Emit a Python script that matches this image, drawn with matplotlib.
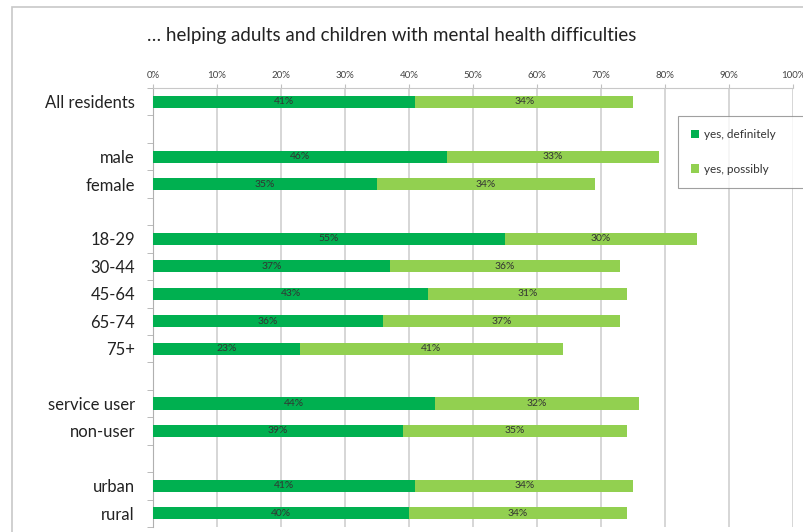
import numpy as np
import matplotlib.pyplot as plt
from matplotlib.patches import Rectangle

# data (None = spacer row)
categories = ['All residents', '', 'male', 'female', '', '18-29', '30-44', '45-64',
              '65-74', '75+', '', 'service user', 'non-user', '', 'urban', 'rural']
definitely = [41, None, 46, 35, None, 55, 37, 43, 36, 23, None, 44, 39, None, 41, 40]
possibly = [34, None, 33, 34, None, 30, 36, 31, 37, 41, None, 32, 35, None, 34, 34]
xticks = list(range(0, 101, 10))

plt.rcParams['font.family'] = ['Lato', 'DejaVu Sans']

fig = plt.figure(figsize=(8.04, 5.32), dpi=100)
ax = fig.add_axes([153/804, 1 - 527/532, 640/804, 439/532])

# outer chart frame (only left/top edges visible in the crop)
fig.patches.append(Rectangle((12/804, -0.1), 1.0, 1 - 7/532 + 0.1, transform=fig.transFigure,
                             fill=False, edgecolor='#c8c8c8', linewidth=1.2))

dark = '#00b050'
light = '#92d050'
y = np.arange(len(categories))
rows = [i for i, d in enumerate(definitely) if d is not None]
d_vals = np.array([definitely[i] for i in rows])
p_vals = np.array([possibly[i] for i in rows])

ax.barh(rows, d_vals, height=0.44, color=dark, label='yes, definitely', zorder=3)
ax.barh(rows, p_vals, left=d_vals, height=0.44, color=light, label='yes, possibly', zorder=3)

for r, d, p in zip(rows, d_vals, p_vals):
    ax.text(d / 2, r, f'{d}%', ha='center', va='center', fontsize=7.5, color='#333333', zorder=4)
    ax.text(d + p / 2, r, f'{p}%', ha='center', va='center', fontsize=7.5, color='#333333', zorder=4)

ax.set_xlim(0, 100)
ax.set_ylim(len(categories) - 0.5, -0.5)
ax.xaxis.tick_top()
ax.set_xticks(xticks)
ax.set_xticklabels([f'{t}%' for t in xticks], fontsize=7, color='#444444')
ax.tick_params(axis='x', length=3, color='#c0c0c0', pad=3)
ax.grid(axis='x', color='#d0d0d0', linewidth=1.2, zorder=0)

ax.set_yticks(y)
ax.set_yticklabels(categories, fontsize=12, color='#222222')
ax.set_yticks(np.arange(-0.5, len(categories), 1), minor=True)
ax.tick_params(axis='y', which='major', length=0, pad=13)
ax.tick_params(axis='y', which='minor', length=4, color='#b0b0b0')

for s in ['right', 'bottom']:
    ax.spines[s].set_visible(False)
ax.spines['left'].set_color('#b0b0b0')
ax.spines['top'].set_color('#c8c8c8')

fig.text(392/804, 1 - 35/532, '\u2026 helping adults and children with mental health difficulties',
         ha='center', va='center', fontsize=13.5, color='#222222')

lx0 = (678 - 153) / 640
lx1 = (808 - 153) / 640
ly1 = 1 - (116 - 88) / 439
ly0 = 1 - (190 - 88) / 439
leg = ax.legend(loc='upper left', bbox_to_anchor=(lx0, ly0, lx1 - lx0, ly1 - ly0), mode='expand',
                frameon=True, fancybox=False, edgecolor='#888888', fontsize=8.5,
                handlelength=0.7, handleheight=0.7, labelspacing=2.0, borderpad=1.1,
                handletextpad=0.4, borderaxespad=0)
leg.get_frame().set_linewidth(0.8)
leg.set_clip_on(False)
for t in leg.get_texts():
    t.set_color('#333333')

fig.savefig('out.png', dpi=100)
